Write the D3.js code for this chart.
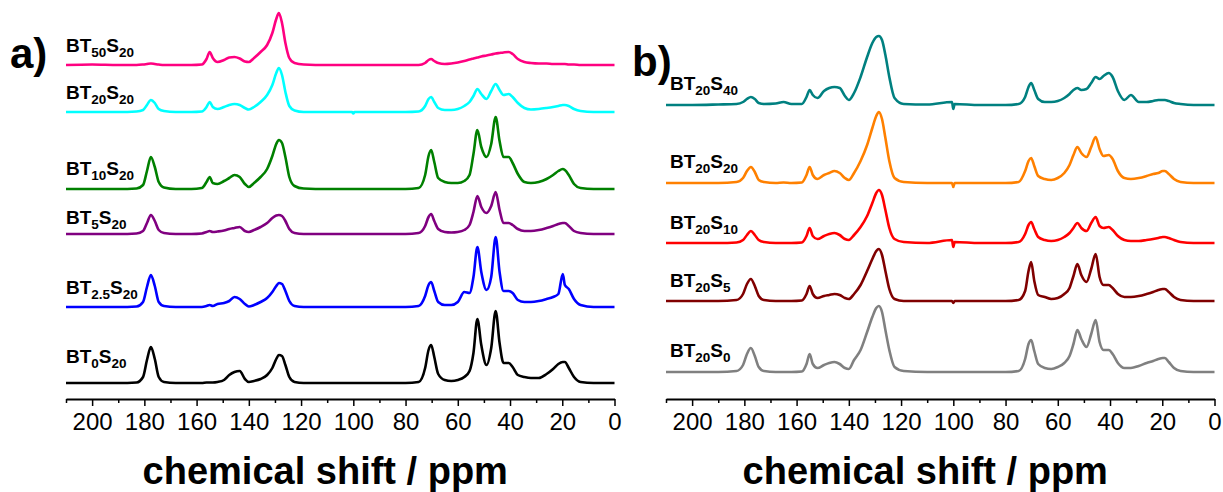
<!DOCTYPE html>
<html><head><meta charset="utf-8">
<script src="https://cdn.jsdelivr.net/npm/d3@7/dist/d3.min.js"></script>
<style>body{margin:0;background:#fff}svg{display:block}</style>
</head><body>
<svg id="c" width="1223" height="492"></svg>
<script>
// chemical shift grid (ppm) shared by all spectra
const ppm = [210,200,190,183,180.5,179,177.5,176,174.5,172.5,168,165,162,158,156.2,155,153.8,152,149.5,147.5,145.5,143.5,141.5,140,138,135.5,133,131,129.5,128.5,127.3,126,124.5,122.5,119,110,100.5,100,99.5,90,80,75,72.5,71.2,70.2,69,67.5,65,62.5,60,57.5,55.5,54,52.5,51,49,47.2,45.5,44,42.5,40.5,39,37,34.5,32,29,26,23.5,21.5,19.8,19,17.5,15.5,13,8,0];
const xTicks = [210,200,190,180,170,160,150,140,130,120,110,100,90,80,70,60,50,40,30,20,10,0];

// panel a intensities
const bt50s20 = [0,0.5,0,0,0.5,1,1.5,1,0.5,0,0,0,0,0.5,6,13,7,3,5,7.5,8,6.5,3.5,3,7,13,20,32,46,52,42,22,7,2,0.5,0,0,0,0,0,0,0,2,5,6,4,2,1,1.5,2.5,4,5.5,6.5,7.5,8.5,9.5,10.5,11.5,12,12.5,13,11,6,3,2,1.5,1.5,1,1,1,1,0.5,0.5,0,0,0];
const bt20s20a = [0,0,0,0.5,2,7,12,9,3,1,0,0,0,0.5,5,10,5,3,5,7,8,7,4,2.5,5,10,17,27,39,44,37,20,6,1.5,0,0,0,-1.5,0,0,0,0.5,6,13,15,10,4,2,2,3,6,10,16,23,18,13,21,28,22,17,18,15,9,4,2.5,3,4,5,6,7,7,6,3,1,0,0];
const bt10s20 = [0,0,0,0.5,4,18,32,22,7,1.5,0,0,0,1,7,12,6,5,8,11,14,12,5,2,6,12,20,33,45,49,46,32,12,3,0.5,0,0,0,0,0,0,1,14,33,39,27,11,7,6,6,8,14,35,59,42,32,45,72,48,32,32,26,15,7,6,7,10,14,18,20,19,14,5,1,0,0];
const bt5s20 = [0,0,0,0.5,3,11,19,13,4,1,0,0,0,0.5,2,3,2,2.5,3.5,5,6,7,3,2,4,7,11,16,18.5,19,18,13,5,1,0,0,0,0,0,0,0,1,8,17,20,13,5,2,1.5,2,4,9,22,38,27,21,28,42,24,11,11,9,5,3,3,4,6,8,10,11,11,8,3,1,0,0];
const bt25s20 = [0,0,0,0.5,5,20,32,21,5,1,0,0,0,0,1,2,1,3,4,6,10,8,3,0.5,2,5,9,15,21,24,23,16,6,1,0,0,0,0,0,0,0,1,11,22,25,16,5,2,2,5,15,14,30,60,35,17,30,70,35,16,16,14,7,5,5,6,8,10,13,33,22,18,8,2,0,0];
const bt0s20 = [0,0,0,0.5,6,23,36,24,6,1,0,0,0,0,0.5,0.5,0.5,1,3,8,11,12,4,1,2,4,8,15,24,28,27,18,6,1,0,0,0,0,0,0,0,1,15,33,38,26,9,3,2,3,6,12,30,64,38,18,35,72,40,20,20,16,8,6,5,5,9,14,19,21,21,15,6,1,0,0];

// panel b intensities
const bt20s40 = [0,0,0.5,1,3,6,8,6,2,1,1.5,3,1,1,8,15,10,7,14,17,18,17,9,5,12,28,48,62,68,69,65,50,28,7,1,0.5,3,-4,1,0,0,1,8,18,22,15,6,3,3,4,7,11,15,17,15,16,22,28,26,29,32,28,14,5,10,3,3,4,5,5,5,4,2,1,0,0];
const bt20s20b = [0,0,0,1,5,12,16,11,3,1,0,0.5,0,0.5,8,16,8,4,8,10,12,10,5,3,10,22,38,55,67,71,64,45,22,5,1,0,0,-4,0,0,0,1,12,22,25,17,7,4,3,5,10,18,28,36,30,26,36,46,34,27,28,24,12,5,4,5,7,9,10,12,12,9,4,1,0,0];
const bt20s10 = [0,0,0,0.5,3,8,12,8,3,1,0,0,0,0.5,7,15,7,4,7,9,10,8,4,3,8,16,27,40,50,53,48,33,15,4,1,0,3,-4,1,0,0,1,9,18,21,14,6,3,2,3,6,10,15,20,15,12,20,26,17,15,16,13,7,3,2,2,3,4,5,6,6,5,3,1,0,0];
const bt20s5 = [0,0,0,1,7,17,22,15,5,1,0,0,0,0.5,7,15,7,3,5,6,7,6,3,2,7,16,30,42,50,52,46,30,12,2,0,0,0,-2,0,0,0,1,10,30,39,20,6,4,2,3,7,13,25,37,26,19,32,47,24,16,16,13,7,4,4,5,7,9,11,12,12,9,4,1,0,0];
const bt20s0 = [0,0,0,1,7,18,24,16,5,1,0,0,0,0.5,8,18,8,4,7,9,10,8,4,3,12,22,40,55,64,66,60,42,22,5,1,0,0,0,0,0,0,1,13,28,32,21,8,4,3,5,9,16,28,42,33,25,38,52,30,22,22,18,9,4,4,6,9,11,13,14,14,10,4,1,0,0];

// series labels (subscripts for T and S)
const namesA = ["BT50S20","BT20S20","BT10S20","BT5S20","BT2.5S20","BT0S20"];
const subTA = ["50","20","10","5","2.5","0"];
const subSA = ["20","20","20","20","20","20"];
const namesB = ["BT20S40","BT20S20","BT20S10","BT20S5","BT20S0"];
const subTB = ["20","20","20","20","20"];
const subSB = ["40","20","10","5","0"];

const dataA = [bt50s20, bt20s20a, bt10s20, bt5s20, bt25s20, bt0s20];
const dataB = [bt20s40, bt20s20b, bt20s10, bt20s5, bt20s0];

// layout / style
const colorsA = ["#FF0080","#00FFFF","#008000","#800080","#0000FF","#000000"];
const colorsB = ["#008080","#FF8000","#FF0000","#800000","#808080"];
const offsetsA = [334,287,210,165,92,16];
const offsetsB = [294,216,156,98,27];
const labelLiftA = [13,13,14,10,13,20];
const labelLiftB = [15,15,14,14,15];

const svg = d3.select("#c");
const AXIS_Y = 399;
const y = d3.scaleLinear().domain([0, 399]).range([AXIS_Y, 0]);

function panel(x0, x1, data, colors, offsets, subT, subS, lifts, labelX, tag, tagX, tagY) {
  const x = d3.scaleLinear().domain([210, 0]).range([x0, x1]);
  const g = svg.append("g");
  const line = d3.line().curve(d3.curveMonotoneX);
  data.forEach((vals, i) => {
    const pts = ppm.map((p, k) => [x(p), y(vals[k] + offsets[i])]);
    g.append("path").attr("d", line(pts)).attr("fill", "none")
      .attr("stroke", colors[i]).attr("stroke-width", 2.6).attr("stroke-linejoin", "round");
    const t = g.append("text").attr("x", labelX).attr("y", y(offsets[i]) - lifts[i])
      .attr("font-family", "Liberation Sans, Arial, sans-serif").attr("font-weight", "bold")
      .attr("font-size", 19).attr("fill", "#000");
    t.append("tspan").text("BT");
    t.append("tspan").attr("font-size", 13.5).attr("dy", 5).text(subT[i]);
    t.append("tspan").attr("dy", -5).text("S");
    t.append("tspan").attr("font-size", 13.5).attr("dy", 5).text(subS[i]);
  });
  const axis = d3.axisBottom(x).tickValues(xTicks).tickSizeOuter(0)
    .tickFormat(d => d % 20 === 0 ? d : "");
  const ag = g.append("g").attr("transform", `translate(0,${AXIS_Y})`).call(axis);
  ag.select(".domain").attr("stroke", "#000").attr("stroke-width", 2);
  ag.selectAll(".tick line").attr("stroke", "#000").attr("stroke-width", 1.5)
    .attr("y2", d => d % 20 === 0 ? 7 : 4);
  ag.selectAll(".tick text").attr("y", 31).attr("dy", 0)
    .attr("font-family", "Liberation Sans, Arial, sans-serif").attr("font-size", 24).attr("fill", "#000");
  g.append("text").attr("x", (x0 + x1) / 2 - 15).attr("y", 484).attr("text-anchor", "middle")
    .attr("font-family", "Liberation Sans, Arial, sans-serif").attr("font-weight", "bold")
    .attr("font-size", 38).text("chemical shift / ppm");
  g.append("text").attr("x", tagX).attr("y", tagY)
    .attr("font-family", "Liberation Sans, Arial, sans-serif").attr("font-weight", "bold")
    .attr("font-size", 42).text(tag);
}

panel(66, 614.5, dataA, colorsA, offsetsA, subTA, subSA, labelLiftA, 66, "a)", 10, 68);
panel(666, 1214.5, dataB, colorsB, offsetsB, subTB, subSB, labelLiftB, 670, "b)", 632, 76);
</script>
</body></html>
